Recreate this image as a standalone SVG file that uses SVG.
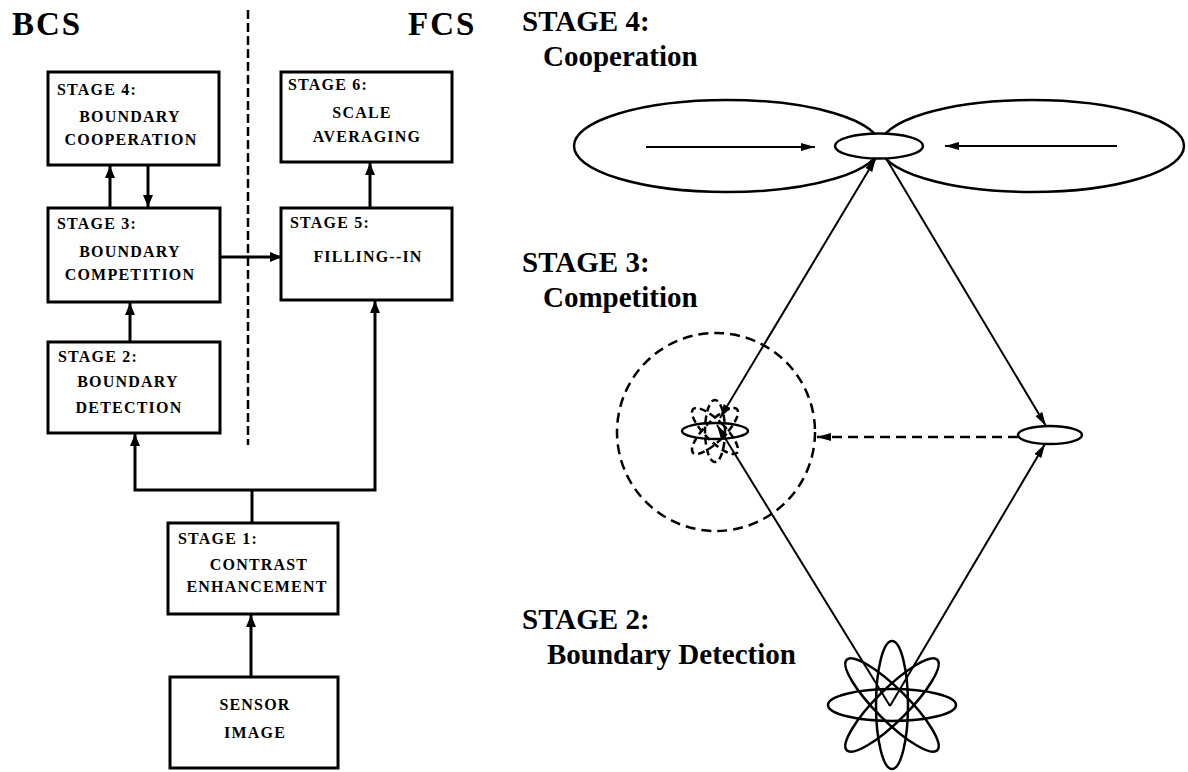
<svg xmlns="http://www.w3.org/2000/svg" width="1188" height="772" viewBox="0 0 1188 772">
<defs>
<style>
.box{fill:#fff;stroke:#000;stroke-width:3}
.lt{font-family:"Liberation Serif",serif;font-weight:bold;font-size:16px;letter-spacing:1.2px;fill:#000}
.c{text-anchor:middle}
.hd{font-family:"Liberation Serif",serif;font-weight:bold;font-size:33px;letter-spacing:2px;fill:#000}
.rt{font-family:"Liberation Serif",serif;font-weight:bold;font-size:29px;fill:#000}
.thick{stroke:#000;stroke-width:3;fill:none}
.thin{stroke:#000;stroke-width:2;fill:none}
.sh{fill:none;stroke:#000;stroke-width:2.5}
.dash{fill:none;stroke:#000;stroke-width:2.5;stroke-dasharray:10 6}
.pet{fill:none;stroke:#000;stroke-width:2.5;stroke-dasharray:7 4}
</style>
<marker id="ah" markerUnits="userSpaceOnUse" markerWidth="12" markerHeight="10" refX="12" refY="5" orient="auto-start-reverse"><path d="M0,0 L12,5 L0,10 z" fill="#000"/></marker>
<marker id="as" markerUnits="userSpaceOnUse" markerWidth="14" markerHeight="8" refX="14" refY="4" orient="auto-start-reverse"><path d="M0,0 L14,4 L0,8 z" fill="#000"/></marker>
</defs>
<rect width="1188" height="772" fill="#fff"/>

<text class="hd" x="12" y="35">BCS</text>
<text class="hd" x="408" y="35">FCS</text>
<line x1="248" y1="10" x2="248" y2="445" stroke="#000" stroke-width="2.5" stroke-dasharray="9 4"/>

<g id="stage4-box">
<rect class="box" x="48" y="72" width="171" height="93"/>
<text class="lt" x="57" y="95">STAGE 4:</text>
<text class="lt c" x="130" y="122">BOUNDARY</text>
<text class="lt c" x="131" y="145">COOPERATION</text>
</g>
<g id="stage6-box">
<rect class="box" x="281" y="72" width="171" height="90"/>
<text class="lt" x="288" y="90">STAGE 6:</text>
<text class="lt c" x="362" y="118">SCALE</text>
<text class="lt c" x="367" y="142">AVERAGING</text>
</g>
<g id="stage3-box">
<rect class="box" x="48" y="208" width="172" height="94"/>
<text class="lt" x="57" y="229">STAGE 3:</text>
<text class="lt c" x="130" y="257">BOUNDARY</text>
<text class="lt c" x="130" y="280">COMPETITION</text>
</g>
<g id="stage5-box">
<rect class="box" x="281" y="208" width="171" height="92"/>
<text class="lt" x="290" y="228">STAGE 5:</text>
<text class="lt c" x="368" y="262">FILLING--IN</text>
</g>
<g id="stage2-box">
<rect class="box" x="48" y="342" width="172" height="91"/>
<text class="lt" x="58" y="362">STAGE 2:</text>
<text class="lt c" x="128" y="387">BOUNDARY</text>
<text class="lt c" x="129" y="413">DETECTION</text>
</g>
<g id="stage1-box">
<rect class="box" x="168" y="523" width="170" height="91"/>
<text class="lt" x="178" y="544">STAGE 1:</text>
<text class="lt c" x="259" y="570">CONTRAST</text>
<text class="lt c" x="257" y="592">ENHANCEMENT</text>
</g>
<g id="sensor-box">
<rect class="box" x="170" y="677" width="168" height="91"/>
<text class="lt c" x="255" y="710">SENSOR</text>
<text class="lt c" x="255" y="738">IMAGE</text>
</g>

<g id="left-connectors">
<line class="thick" x1="110" y1="208" x2="110" y2="166" marker-end="url(#ah)"/>
<line class="thick" x1="148" y1="165" x2="148" y2="207" marker-end="url(#ah)"/>
<line class="thick" x1="370" y1="208" x2="370" y2="163" marker-end="url(#ah)"/>
<line class="thick" x1="130" y1="342" x2="130" y2="303" marker-end="url(#ah)"/>
<line class="thick" x1="220" y1="257" x2="282" y2="257" marker-end="url(#ah)"/>
<polyline class="thick" points="252,523 252,490"/>
<polyline class="thick" points="252,490 135,490 135,434" marker-end="url(#ah)"/>
<polyline class="thick" points="252,490 375,490 375,301" marker-end="url(#ah)"/>
<line class="thick" x1="251" y1="677" x2="251" y2="615" marker-end="url(#ah)"/>
</g>

<text class="rt" x="522" y="31">STAGE 4:</text>
<text class="rt" x="543" y="66">Cooperation</text>
<text class="rt" x="522" y="272">STAGE 3:</text>
<text class="rt" x="543" y="307">Competition</text>
<text class="rt" x="522" y="629">STAGE 2:</text>
<text class="rt" x="547" y="664">Boundary Detection</text>

<g id="cooperation-unit">
<ellipse class="sh" cx="727" cy="146" rx="153" ry="46"/>
<ellipse class="sh" cx="1032" cy="146" rx="152" ry="46"/>
<ellipse cx="879" cy="146" rx="44" ry="12.5" fill="#fff" stroke="#000" stroke-width="2.5"/>
<line class="thin" x1="646" y1="147" x2="815" y2="147" marker-end="url(#as)"/>
<line class="thin" x1="1117" y1="146" x2="945" y2="146" marker-end="url(#as)"/>
</g>

<g id="competition-unit">
<circle class="dash" cx="716" cy="432" r="99"/>
<ellipse class="pet" cx="715" cy="431" rx="10" ry="31"/>
<ellipse class="pet" cx="715" cy="431" rx="10" ry="31" transform="rotate(45 715 431)"/>
<ellipse class="pet" cx="715" cy="431" rx="10" ry="31" transform="rotate(-45 715 431)"/>
<ellipse class="sh" cx="715" cy="431" rx="33" ry="8"/>
<ellipse class="sh" cx="1050" cy="435" rx="32" ry="9"/>
</g>

<g id="detection-unit">
<ellipse class="sh" cx="892" cy="705" rx="64" ry="16"/>
<ellipse class="sh" cx="892" cy="705" rx="64" ry="16" transform="rotate(90 892 705)"/>
<ellipse class="sh" cx="892" cy="705" rx="64" ry="16" transform="rotate(45 892 705)"/>
<ellipse class="sh" cx="892" cy="705" rx="64" ry="16" transform="rotate(-45 892 705)"/>
</g>

<g id="right-connectors">
<line class="thin" x1="720" y1="418" x2="876" y2="158" marker-start="url(#as)" marker-end="url(#as)"/>
<line class="thin" x1="887" y1="160" x2="1046" y2="426" marker-end="url(#as)"/>
<line class="thin" x1="890" y1="706" x2="717" y2="425" marker-end="url(#as)"/>
<line class="thin" x1="890" y1="706" x2="1045" y2="444" marker-end="url(#as)"/>
<line x1="1018" y1="437" x2="817" y2="437" stroke="#000" stroke-width="2.5" stroke-dasharray="10 6" marker-end="url(#as)"/>
</g>
</svg>
